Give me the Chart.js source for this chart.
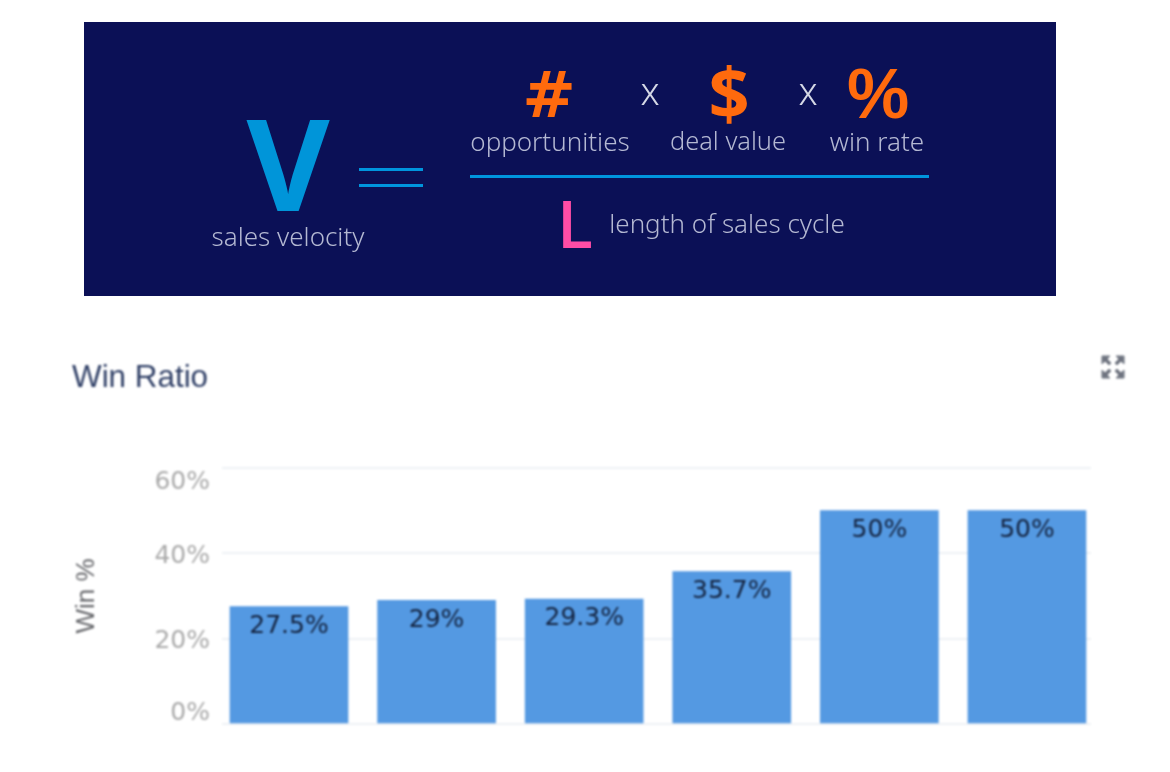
<!DOCTYPE html>
<html>
<head>
<meta charset="utf-8">
<title>Win Ratio</title>
<script src="https://cdn.jsdelivr.net/npm/chart.js@4"></script>
<style>
  html, body { margin: 0; padding: 0; background: #fff; }
  body { width: 1170px; height: 772px; position: relative; overflow: hidden; }
  #main-chart { position: absolute; left: 0; top: 0; filter: blur(0.9px); }
  #banner { position: absolute; left: 84px; top: 22px; width: 972px; height: 274px; background: #0b1056; }
  #layer { position: absolute; left: 0; top: 0; width: 1170px; height: 300px; filter: blur(0.5px); }
  .t { position: absolute; transform: translate(-50%, -50%); line-height: 1; white-space: nowrap;
       font-family: "Noto Sans", sans-serif; font-weight: 300; font-size: 26px; color: #b4b8d2; }
  .big { font-family: "Open Sans", sans-serif; font-weight: 700; }
  .sym { font-family: "DejaVu Sans", sans-serif; font-weight: 700; }
  .rule { position: absolute; background: #0095dd; height: 3px; }
  #title { position: absolute; left: 72px; top: 359px; font: 31.4px "Liberation Sans", sans-serif; line-height: 36px;
           color: #2f3f66; filter: blur(0.8px); }
  #expand { position: absolute; left: 1100px; top: 354px; filter: blur(0.9px); }
</style>
</head>
<body>
<canvas id="main-chart" width="1170" height="772"></canvas>
<div id="banner"></div>
<div id="layer">
  <span class="t big" style="left:288px;top:162px;font-size:128px;color:#0095d9">V</span>
  <span class="t" style="left:288px;top:236px">sales velocity</span>
  <div class="rule" style="left:359px;top:168px;width:64px"></div>
  <div class="rule" style="left:359px;top:184px;width:64px"></div>
  <span class="t sym" style="left:549px;top:95px;font-size:64px;color:#ff6a0d">#</span>
  <span class="t" style="left:650px;top:90px;font-size:38px;color:#d5d8e6">x</span>
  <span class="t big" style="left:729px;top:92px;font-size:72px;color:#ff6a0d">$</span>
  <span class="t" style="left:808px;top:90px;font-size:38px;color:#d5d8e6">x</span>
  <span class="t" style="left:878px;top:94px;font:700 70px 'Liberation Sans',sans-serif;color:#ff6a0d">%</span>
  <span class="t" style="left:550px;top:141px">opportunities</span>
  <span class="t" style="left:728px;top:141px;font-size:25.4px">deal value</span>
  <span class="t" style="left:877px;top:141px">win rate</span>
  <div class="rule" style="left:470px;top:175px;width:459px"></div>
  <span class="t big" style="left:575px;top:222px;font-size:66px;font-weight:600;color:#ff4da6">L</span>
  <span class="t" style="left:727px;top:223px">length of sales cycle</span>
</div>
<div id="title">Win Ratio</div>
<svg id="expand" width="26" height="26" viewBox="0 0 26 26" fill="#6f7480" stroke="#6f7480">
  <path d="M2 2h8l-3 3 4 4-2 2-4-4-3 3z"/>
  <path d="M24 2h-8l3 3-4 4 2 2 4-4 3 3z"/>
  <path d="M2 24h8l-3-3 4-4-2-2-4 4-3-3z"/>
  <path d="M24 24h-8l3-3-4-4 2-2 4 4 3-3z"/>
</svg>
<script>
var win_list = [27.5, 29, 29.3, 35.7, 50, 50];

// tick labels sit off their gridlines in the original, order is 0, 20, 40, 60
var tick_shift = [-11, 3, 3, 14];

const shiftTicks = {
  id: 'shiftTicks',
  afterUpdate(chart) {
    chart.scales.y.getLabelItems().forEach((item, i) => {
      item.options.translation[1] += tick_shift[i];
    });
  }
};

const barLabels = {
  id: 'barLabels',
  afterDatasetsDraw(chart) {
    const ctx = chart.ctx;
    ctx.save();
    ctx.font = '25px "DejaVu Sans"';
    ctx.fillStyle = '#14233f';
    ctx.textAlign = 'center';
    ctx.textBaseline = 'middle';
    chart.getDatasetMeta(0).data.forEach((bar, i) => {
      ctx.fillText(win_list[i] + '%', bar.x, bar.y + 20);
    });
    ctx.restore();
  }
};

var mainChart = new Chart(document.getElementById('main-chart'), {
  type: 'bar',
  data: {
    datasets: [{
      label: 'Win %',
      backgroundColor: '#5499e2',
      barThickness: 118,
      data: win_list.map((v, i) => ({ x: i, y: v }))
    }]
  },
  options: {
    responsive: false,
    animation: false,
    layout: {
      padding: { left: 71, right: 79, top: 468, bottom: 48 }
    },
    plugins: {
      legend: { display: false },
      tooltip: { enabled: false }
    },
    scales: {
      x: {
        type: 'linear',
        display: false,
        offset: false,
        min: -0.454,
        max: 5.434
      },
      y: {
        min: 0,
        max: 60,
        afterFit(scale) {
          scale.width = 151;
        },
        border: { display: false },
        grid: {
          color: '#eef1f5',
          lineWidth: 2,
          drawTicks: false
        },
        ticks: {
          stepSize: 20,
          padding: 12,
          color: '#a9a9a9',
          font: { family: '"DejaVu Sans"', size: 25 },
          callback: (v) => v + '%'
        },
        title: {
          display: true,
          text: 'Win %',
          color: '#66676b',
          padding: 0,
          font: { family: '"Liberation Sans"', size: 26 }
        }
      }
    }
  },
  plugins: [shiftTicks, barLabels]
});
</script>
</body>
</html>
